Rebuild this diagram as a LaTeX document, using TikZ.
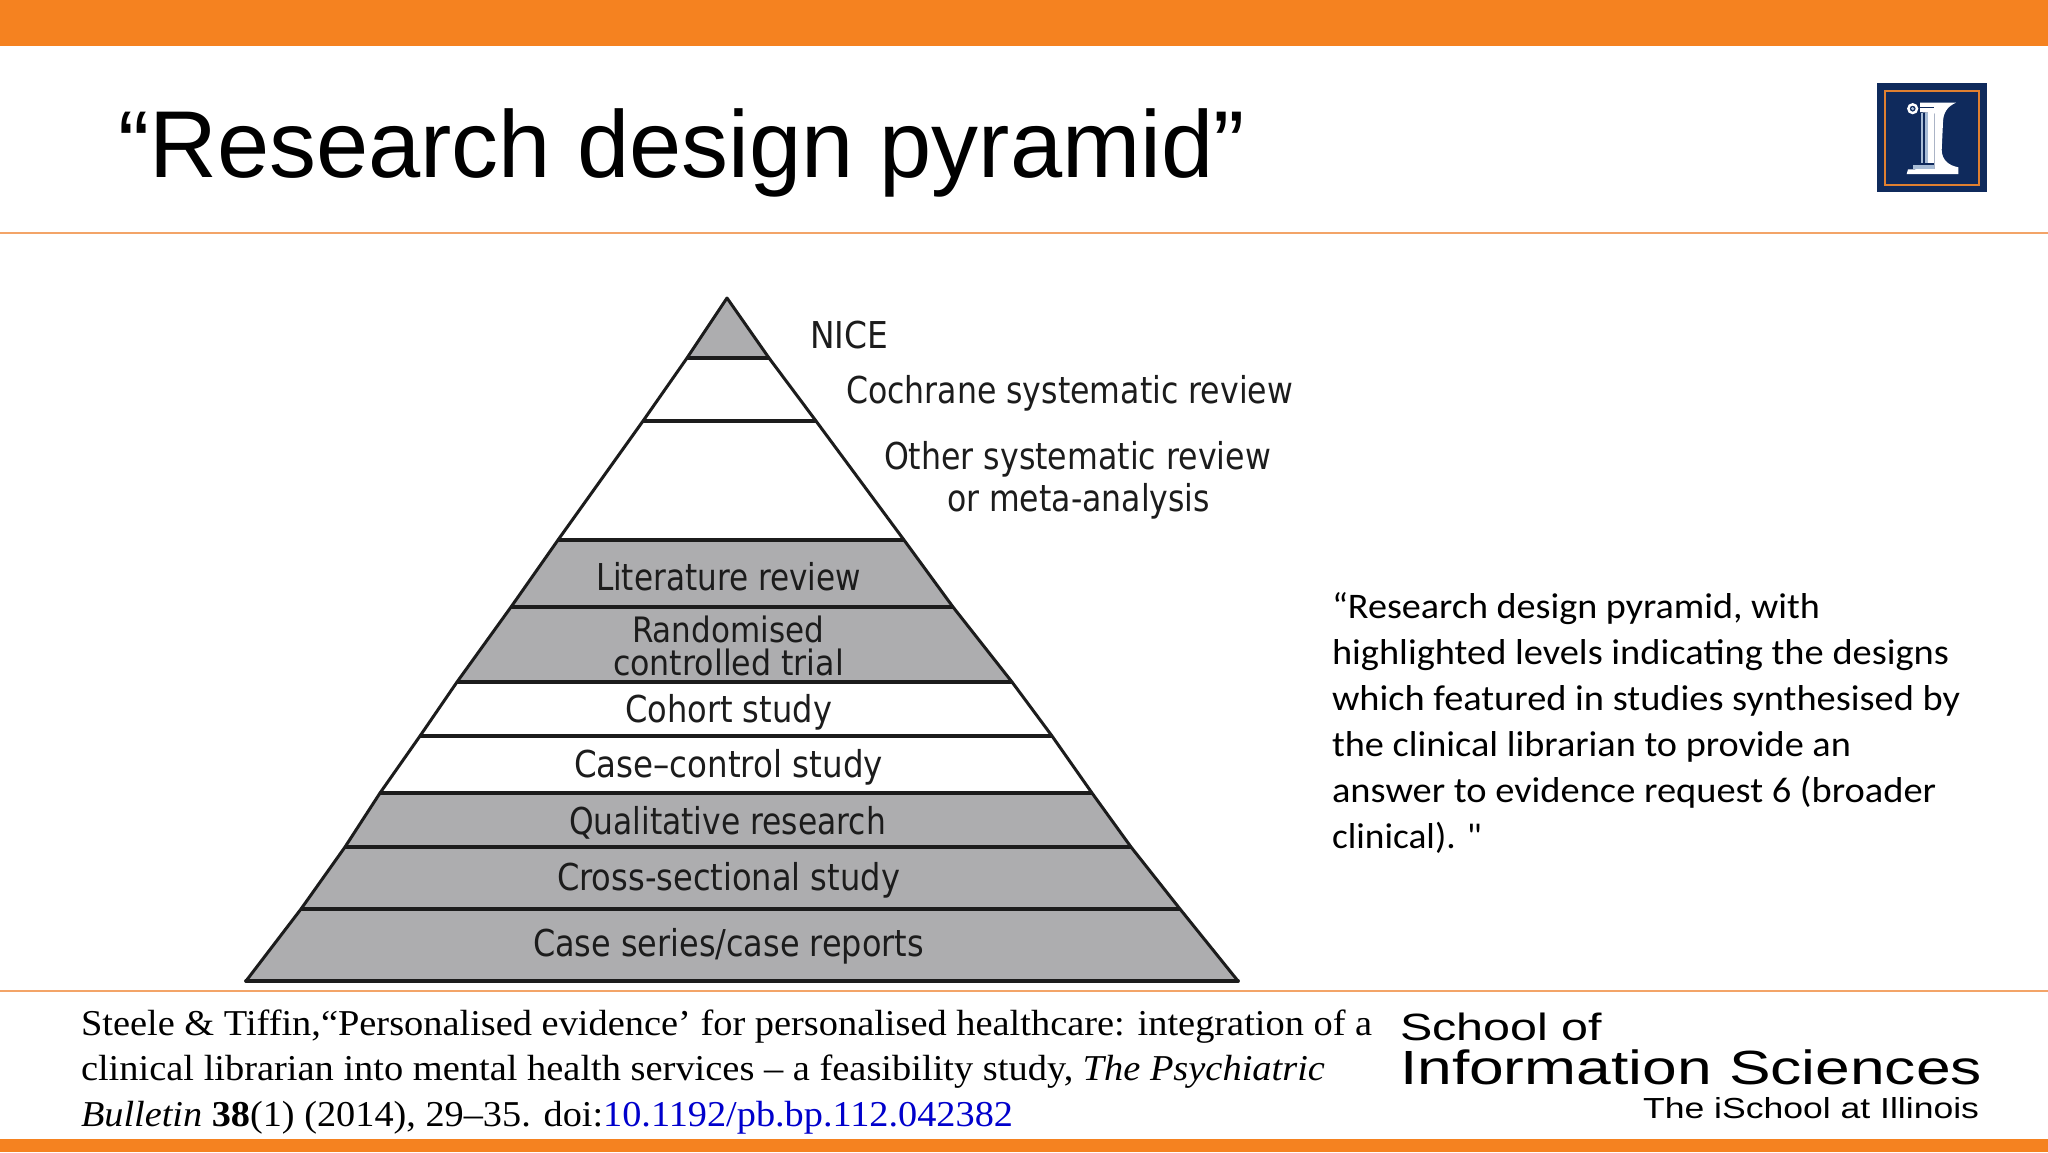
\documentclass[tikz,border=0pt]{standalone}
\usepackage{fontspec}
\usepackage{graphicx}
\setmainfont{Liberation Serif}
\newfontfamily\sansf{Liberation Sans}
\newfontfamily\pyrf{DejaVu Sans}
\newfontfamily\bodyf{Carlito}
\definecolor{ilorange}{HTML}{F58220}
\definecolor{ilrule}{HTML}{F3A468}
\definecolor{ilnavy}{HTML}{0F2A5C}
\definecolor{ilframe}{HTML}{E08030}
\definecolor{pyrgray}{HTML}{ADADAF}
\definecolor{pyrink}{HTML}{1C1C1C}
\definecolor{linkblue}{HTML}{0000CC}
\definecolor{pillar}{HTML}{A9BDD6}
\newcommand{\fitw}[2]{\resizebox{\dimexpr#1pt/2\relax}{\height}{#2}}
\tikzset{
  lab/.style={inner sep=0pt,outer sep=0pt,anchor=base west},
  pyrlab/.style={lab,font=\pyrf\fontsize{18.5}{20}\selectfont,text=pyrink},
  pyrtight/.style={lab,font=\pyrf\fontsize{17.5}{20}\selectfont,text=pyrink},
  bodylab/.style={lab,font=\bodyf\fontsize{18}{20}\selectfont,text=black},
  citelab/.style={lab,font=\fontsize{18.2}{20}\selectfont,text=black},
  band/.style={fill=pyrgray,draw=none},
  bar/.style={draw=pyrink,line width=1.9pt},
  edge/.style={draw=pyrink,line width=1.5pt,line join=round,line cap=round},
  rulel/.style={draw=ilrule,line width=1pt}
}
\begin{document}
\begin{tikzpicture}[x=0.5pt,y=-0.5pt]
\useasboundingbox (0,0) rectangle (2048,1152);
\fill[white] (0,0) rectangle (2048,1152);
% slide furniture
\fill[ilorange] (0,0) rectangle (2048,46);
\fill[ilorange] (0,1139) rectangle (2048,1152);
\draw[rulel] (0,233) -- (2048,233);
\draw[rulel] (0,991) -- (2048,991);
\node[lab,font=\sansf\fontsize{47.5}{50}\selectfont] (title) at (118,177) {\fitw{1127}{“Research design pyramid”}};
% logo
\fill[ilnavy] (1877,83) rectangle (1987,192);
\draw[ilframe,line width=1.4pt] (1885,91) rectangle (1979,185);
\begin{scope}[shift={(1800,50)},x=0.16667pt,y=-0.16667pt]
  \fill[white] (360,158) -- (468,158) .. controls (440,170) and (430,190) .. (429,215)
     -- (425,300) .. controls (426,330) and (445,346) .. (475,352) -- (475,372) -- (320,372)
     -- (324,358) -- (403,357) -- (403,190) -- (360,186) -- cycle;
  \fill[pillar] (362,190) rectangle (403,338);
  \fill[white] (384,190) rectangle (403,338);
  \fill[ilnavy] (370,190) rectangle (376,338);
  \fill[pillar] (338,344) rectangle (403,356);
  \fill[ilnavy] (360,170) rectangle (403,174);
  \draw[white,line width=1.2pt] (338,176) circle [radius=13];
  \fill[pillar] (338,176) circle [radius=5];
\end{scope}
% pyramid
\coordinate (A) at (727,298);
\coordinate (L1) at (687,358);  \coordinate (R1) at (769,358);
\coordinate (L2) at (643,421);  \coordinate (R2) at (816,421);
\coordinate (L3) at (558,540);  \coordinate (R3) at (904,540);
\coordinate (L4) at (511,607);  \coordinate (R4) at (953,607);
\coordinate (L5) at (457,682);  \coordinate (R5) at (1012,682);
\coordinate (L6) at (420,736);  \coordinate (R6) at (1052,736);
\coordinate (L7) at (380,793);  \coordinate (R7) at (1092,793);
\coordinate (L8) at (345,847);  \coordinate (R8) at (1131,847);
\coordinate (L9) at (301,909);  \coordinate (R9) at (1180,909);
\coordinate (L10) at (246,981); \coordinate (R10) at (1238,981);
\fill[band] (A) -- (R1) -- (L1) -- cycle;
\fill[band] (L3) -- (R3) -- (R4) -- (R5) -- (L5) -- (L4) -- cycle;
\fill[band] (L7) -- (R7) -- (R8) -- (R9) -- (R10) -- (L10) -- (L9) -- (L8) -- cycle;
\draw[bar] (L1) -- (R1);
\draw[bar] (L2) -- (R2);
\draw[bar] (L3) -- (R3);
\draw[bar] (L4) -- (R4);
\draw[bar] (L5) -- (R5);
\draw[bar] (L6) -- (R6);
\draw[bar] (L7) -- (R7);
\draw[bar] (L8) -- (R8);
\draw[bar] (L9) -- (R9);
\draw[bar,line cap=round] (L10) -- (R10);
\draw[edge] (L10) -- (L9) -- (L8) -- (L7) -- (L6) -- (L5) -- (L4) -- (L3) -- (L2) -- (L1) -- (A)
   -- (R1) -- (R2) -- (R3) -- (R4) -- (R5) -- (R6) -- (R7) -- (R8) -- (R9) -- (R10);
% pyramid labels
\node[pyrlab] (nice) at (810,348) {\fitw{78}{NICE}};
\node[pyrlab] (cochrane) at (846,403) {\fitw{447}{Cochrane systematic review}};
\node[pyrlab] (other) at (884,469) {\fitw{387}{Other systematic review}};
\node[pyrlab] (meta) at (947,511) {\fitw{263}{or meta-analysis}};
\node[pyrlab] (lit) at (596,590) {\fitw{265}{Literature review}};
\node[pyrtight] (rand) at (632,642) {\fitw{192}{Randomised}};
\node[pyrtight] (ctrl) at (613,675) {\fitw{231}{controlled trial}};
\node[pyrlab] (cohort) at (625,722) {\fitw{207}{Cohort study}};
\node[pyrlab] (casec) at (574,777) {\fitw{309}{Case–control study}};
\node[pyrlab] (qual) at (569,834) {\fitw{317}{Qualitative research}};
\node[pyrlab] (cross) at (557,890) {\fitw{343}{Cross-sectional study}};
\node[pyrlab] (series) at (533,956) {\fitw{391}{Case series/case reports}};
% right text
\node[bodylab] (b1) at (1332,618) {\fitw{488}{“Research design pyramid, with}};
\node[bodylab] (b2) at (1332,664) {\fitw{617}{highlighted levels indicating the designs}};
\node[bodylab] (b3) at (1332,710) {\fitw{628}{which featured in studies synthesised by}};
\node[bodylab] (b4) at (1332,756) {\fitw{519}{the clinical librarian to provide an}};
\node[bodylab] (b5) at (1332,802) {\fitw{604}{answer to evidence request 6 (broader}};
\node[bodylab] (b6) at (1332,848) {\fitw{150}{clinical). "}};
% citation
\node[citelab] (c1) at (81,1035) {\fitw{1291}{Steele \& Tiffin,“Personalised evidence’ for personalised healthcare: integration of a}};
\node[citelab] (c2) at (81,1080) {\fitw{1244}{clinical librarian into mental health services – a feasibility study, \textit{The Psychiatric}}};
\node[citelab] (c3) at (81,1126) {\fitw{932}{\textit{Bulletin} \textbf{38}(1) (2014), 29–35. doi:\textcolor{linkblue}{10.1192/pb.bp.112.042382}}};
% school logo text
\node[lab,font=\sansf\fontsize{19}{22}\selectfont] (s1) at (1400,1040) {\fitw{202}{School of}};
\node[lab,font=\sansf\fontsize{24}{26}\selectfont] (s2) at (1400,1084) {\fitw{582}{Information Sciences}};
\node[lab,font=\sansf\fontsize{14.5}{17}\selectfont] (s3) at (1643,1118) {\fitw{336}{The iSchool at Illinois}};
\end{tikzpicture}
\end{document}
